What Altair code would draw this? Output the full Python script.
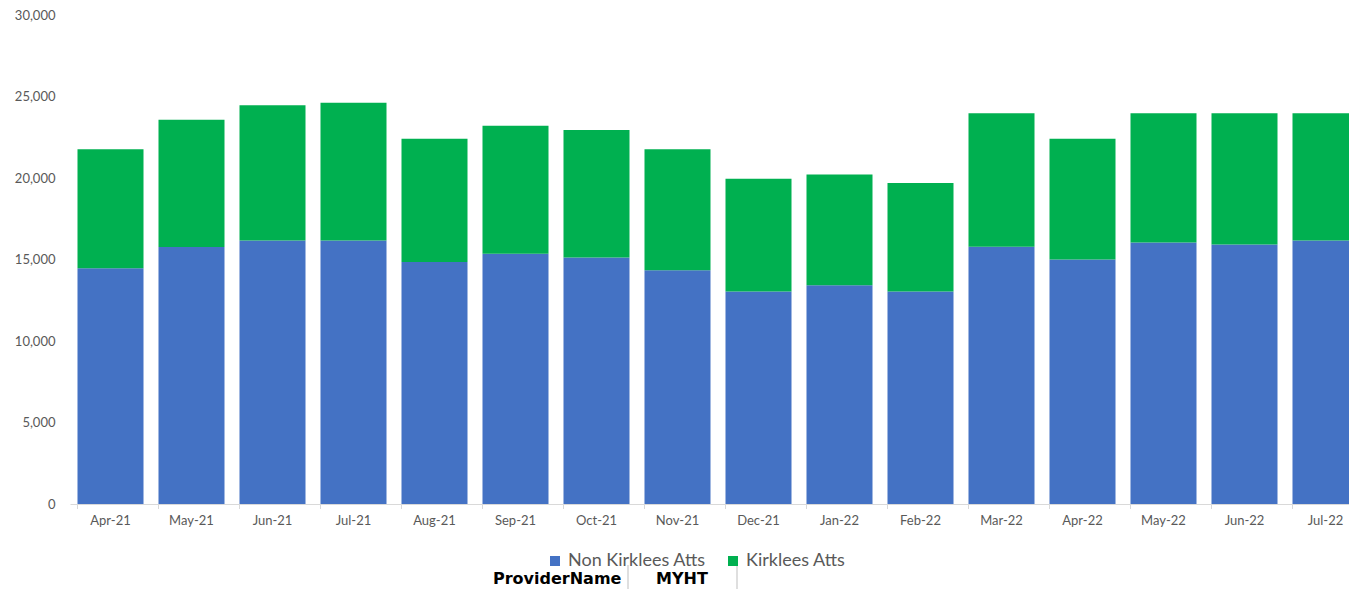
import altair as alt
import pandas as pd

months = ["Apr-21", "May-21", "Jun-21", "Jul-21", "Aug-21", "Sep-21", "Oct-21", "Nov-21",
          "Dec-21", "Jan-22", "Feb-22", "Mar-22", "Apr-22", "May-22", "Jun-22", "Jul-22"]
non_kirklees = [14460, 15770, 16160, 16160, 14850, 15360, 15120, 14340,
                13040, 13420, 13040, 15780, 15000, 16040, 15920, 16160]
kirklees = [7300, 7810, 8310, 8460, 7560, 7850, 7820, 7420,
            6920, 6790, 6650, 8200, 7410, 7940, 8060, 7820]
series = ["Non Kirklees Atts", "Kirklees Atts"]
colors = ["#4472C4", "#00B050"]

rows = []
for m, a, b in zip(months, non_kirklees, kirklees):
    rows.append({"month": m, "series": series[0], "value": a, "ord": 0})
    rows.append({"month": m, "series": series[1], "value": b, "ord": 1})
df = pd.DataFrame(rows)

W, H = 1279, 489
FONT = "Lato"
GREY = "#595959"

xscale = alt.Scale(range=[0, 1296], paddingInner=0.185, paddingOuter=0.0925)

bars = alt.Chart(df).mark_bar().encode(
    x=alt.X("month:N", sort=months, scale=xscale, title=None,
            axis=alt.Axis(labelAngle=0, ticks=False, domainColor="#D9D9D9",
                          labelColor=GREY, labelFont=FONT, labelFontSize=13,
                          labelPadding=10)),
    y=alt.Y("value:Q", stack="zero", title=None,
            scale=alt.Scale(domain=[0, 30000], nice=False),
            axis=alt.Axis(values=[0, 5000, 10000, 15000, 20000, 25000, 30000],
                          format=",.0f", grid=False, domain=False, ticks=False,
                          labelColor=GREY, labelFont=FONT, labelFontSize=13,
                          labelPadding=15)),
    color=alt.Color("series:N", scale=alt.Scale(domain=series, range=colors),
                    legend=alt.Legend(title=None, orient="none", legendX=476, legendY=537,
                                      direction="horizontal", symbolType="square",
                                      symbolSize=100, symbolStrokeWidth=0,
                                      labelFont=FONT, labelFontSize=18, labelColor=GREY,
                                      labelOffset=4, columnPadding=18, padding=0)),
    order=alt.Order("ord:Q", sort="ascending"),
)

ticks = alt.Chart(df).mark_rule(color="#D9D9D9").encode(
    x=alt.X("month:N", sort=months, bandPosition=0),
    y=alt.value(H), y2=alt.value(H + 5),
)

label_df = pd.DataFrame({"t": ["ProviderName"]})
provider = alt.Chart(label_df).mark_text(
    font="DejaVu Sans", fontWeight="bold", fontSize=16, color="black",
    align="left", baseline="middle").encode(
    text="t:N", x=alt.value(423), y=alt.value(564))

myht_df = pd.DataFrame({"t": ["MYHT"]})
myht = alt.Chart(myht_df).mark_text(
    font="DejaVu Sans", fontWeight="bold", fontSize=16, color="black",
    align="center", baseline="middle").encode(
    text="t:N", x=alt.value(612), y=alt.value(564))

sep1 = alt.Chart(label_df).mark_rule(color="#BFBFBF").encode(
    x=alt.value(558), y=alt.value(550), y2=alt.value(574))
sep2 = alt.Chart(label_df).mark_rule(color="#BFBFBF").encode(
    x=alt.value(667), y=alt.value(550), y2=alt.value(574))

chart = alt.layer(bars, ticks, provider, myht, sep1, sep2).properties(
    width=W, height=H,
    background="white",
    autosize=alt.AutoSizeParams(type="none"),
    padding={"left": 70, "top": 15, "right": 0, "bottom": 85},
).configure_view(strokeWidth=0, stroke="transparent")

chart.save("out.html", embed_options={"renderer": "svg", "actions": False})
